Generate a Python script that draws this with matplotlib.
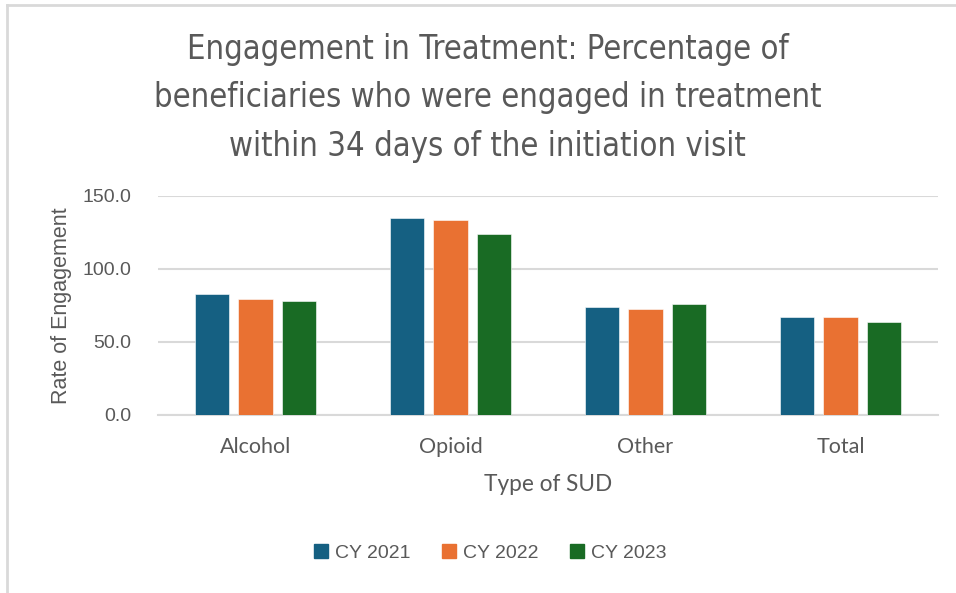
import matplotlib.pyplot as plt
import numpy as np
from matplotlib.patches import Rectangle
from matplotlib.lines import Line2D

categories = ['Alcohol', 'Opioid', 'Other', 'Total']
years = ['CY 2021', 'CY 2022', 'CY 2023']
cy2021 = [82.6, 135.0, 73.9, 67.0]
cy2022 = [79.1, 133.4, 72.3, 67.0]
cy2023 = [78.2, 123.6, 75.7, 63.4]
yticks = [0, 50, 100, 150]

colors = ['#156082', '#E97132', '#196B24']
grey = '#595959'

fig = plt.figure(figsize=(9.56, 5.93), dpi=100)
ax = fig.add_axes([0.1653, 0.3002, 0.8159, 0.3698])

x = np.arange(len(categories))
w = 0.175
step = 0.223
for i, vals in enumerate([cy2021, cy2022, cy2023]):
    ax.bar(x + (i - 1) * step, vals, width=w, color=colors[i],
           edgecolor='white', linewidth=0.4, label=years[i], zorder=3)

for s in ['top', 'right', 'left']:
    ax.spines[s].set_visible(False)
ax.spines['bottom'].set_color('#d9d9d9')
ax.spines['bottom'].set_linewidth(1.5)

ax.set_xlim(-0.5, len(categories) - 0.5)
ax.set_ylim(0, 150)
ax.set_yticks(yticks)
ax.set_yticklabels([f'{v:.1f}' for v in yticks], fontsize=14,
                   color=grey, family='Liberation Sans')
ax.set_xticks(x)
ax.set_xticklabels(categories, fontsize=15.5, color=grey, family='Lato')
ax.tick_params(axis='y', length=0, pad=19)
ax.tick_params(axis='x', length=0, pad=16)
ax.yaxis.grid(True, color='#d9d9d9', linewidth=1.5, zorder=0)
ax.set_axisbelow(True)

ax.set_ylabel('Rate of Engagement', fontsize=15.5, color=grey,
              family='Liberation Sans', labelpad=8)
ax.set_xlabel('Type of SUD', fontsize=16.3, color=grey, family='Lato',
              labelpad=12)

fig.text(0.51, 0.835, 'Engagement in Treatment: Percentage of\n'
         'beneficiaries who were engaged in treatment\n'
         'within 34 days of the initiation visit',
         ha='center', va='center', fontsize=23.5, color=grey,
         family='DejaVu Sans', stretch='condensed', linespacing=1.6)

handles = [Rectangle((0, 0), 1, 1, color=c) for c in colors]
fig.legend(handles, years, loc='center', bbox_to_anchor=(0.513, 0.067),
           ncol=3, frameon=False, labelcolor=grey,
           handlelength=0.7, handleheight=0.7, handletextpad=0.4,
           columnspacing=1.6, prop={'family': 'Liberation Sans', 'size': 14})

# thin frame on the left and top edges
fig.add_artist(Line2D([0.0068, 0.0068], [0, 0.992], color='#d9d9d9',
                      linewidth=2, transform=fig.transFigure))
fig.add_artist(Line2D([0.0068, 1], [0.992, 0.992], color='#d9d9d9',
                      linewidth=2, transform=fig.transFigure))

fig.savefig('out.png', dpi=100)
